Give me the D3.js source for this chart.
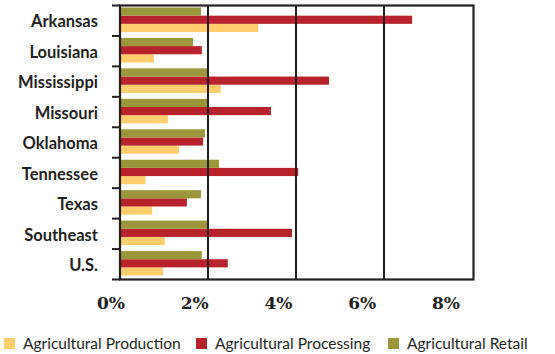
<!doctype html>
<html lang="en">
<head>
<meta charset="utf-8">
<title>Agricultural employment share</title>
<script src="https://d3js.org/d3.v7.min.js"></script>
<style>
  body { margin: 0; background: #fff; }
  svg { display: block; }
  .cat { font-family: Lato, 'Open Sans', sans-serif; font-weight: 700; font-size: 16.5px; fill: #231f20; }
  .tickLabel { font-family: 'DejaVu Serif', 'Liberation Serif', serif; font-weight: 700; font-size: 17px; fill: #231f20; }
  .legend text { font-family: Lato, 'Open Sans', sans-serif; font-size: 15.5px; fill: #231f20; }
</style>
</head>
<body>
<svg width="555" height="354"></svg>
<script>
const categories = ['Arkansas', 'Louisiana', 'Mississippi', 'Missouri', 'Oklahoma',
  'Tennessee', 'Texas', 'Southeast', 'U.S.'];
const seriesNames = ['Agricultural Production', 'Agricultural Processing', 'Agricultural Retail'];
const seriesColors = ['#ffcd6b', '#b8232b', '#9c963a'];
// percent values
const production = [3.14, 0.77, 2.29, 1.09, 1.34, 0.58, 0.73, 1.02, 0.98];
const processing = [6.64, 1.86, 4.75, 3.43, 1.89, 4.05, 1.52, 3.91, 2.45];
const retail     = [1.84, 1.66, 2.02, 2.02, 1.93, 2.25, 1.84, 2.02, 1.86];
const tickValues = [0, 2, 4, 6, 8];

const svg = d3.select('svg');
const dark = '#231f20';

const x = d3.scaleLinear().domain([0, 8]).range([120, 472]);
const y = d3.scaleBand().domain(categories).range([5.5, 279.5]).padding(0);
// bar order inside a group, top to bottom: retail, processing, production
const sub = d3.scaleBand().domain([2, 1, 0]).range([2, 26.5]).padding(0);

const rows = categories.map((c, i) => ({
  cat: c,
  vals: [production[i], processing[i], retail[i]]
}));

const groups = svg.append('g')
  .selectAll('g')
  .data(rows)
  .join('g')
  .attr('transform', d => `translate(0,${y(d.cat)})`);

groups.selectAll('rect')
  .data(d => d.vals.map((v, k) => ({ v, k })))
  .join('rect')
  .attr('x', x(0))
  .attr('y', d => sub(d.k))
  .attr('width', d => x(d.v) - x(0))
  .attr('height', sub.bandwidth())
  .attr('fill', d => seriesColors[d.k]);

// vertical gridlines
svg.append('g')
  .selectAll('line')
  .data([2, 4, 6])
  .join('line')
  .attr('x1', d => x(d)).attr('x2', d => x(d))
  .attr('y1', y.range()[0]).attr('y2', y.range()[1])
  .attr('stroke', dark).attr('stroke-width', 2);

// frame
svg.append('rect')
  .attr('x', x(0)).attr('y', y.range()[0])
  .attr('width', x(8) - x(0) + 1.5).attr('height', y.range()[1] - y.range()[0])
  .attr('fill', 'none').attr('stroke', dark).attr('stroke-width', 2.2);

// left axis ticks at band boundaries
const bounds = categories.map(c => y(c)).concat([y.range()[1]]);
svg.append('g')
  .selectAll('line')
  .data(bounds)
  .join('line')
  .attr('x1', x(0) - 8).attr('x2', x(0))
  .attr('y1', d => d).attr('y2', d => d)
  .attr('stroke', dark).attr('stroke-width', 2);

// category labels
svg.append('g')
  .selectAll('text')
  .data(categories)
  .join('text')
  .attr('class', 'cat')
  .attr('x', 98)
  .attr('y', d => y(d) + y.bandwidth() / 2 + 1)
  .attr('dy', '0.35em')
  .attr('text-anchor', 'end')
  .text(d => d);

// x tick labels (placed on their own spacing, as in the original)
const labelX = d3.scaleLinear().domain([0, 8]).range([111, 446]);
svg.append('g')
  .selectAll('text')
  .data(tickValues)
  .join('text')
  .attr('class', 'tickLabel')
  .attr('x', d => labelX(d))
  .attr('y', 309)
  .attr('text-anchor', 'middle')
  .text(d => d + '%');

// legend
const legendX = [4, 196, 388];
const legend = svg.append('g').attr('class', 'legend')
  .selectAll('g')
  .data(seriesNames)
  .join('g')
  .attr('transform', (d, i) => `translate(${legendX[i]},338)`);
legend.append('rect')
  .attr('width', 11).attr('height', 11)
  .attr('fill', (d, i) => seriesColors[i]);
legend.append('text')
  .attr('x', 19).attr('y', 11)
  .text(d => d);
</script>
</body>
</html>
